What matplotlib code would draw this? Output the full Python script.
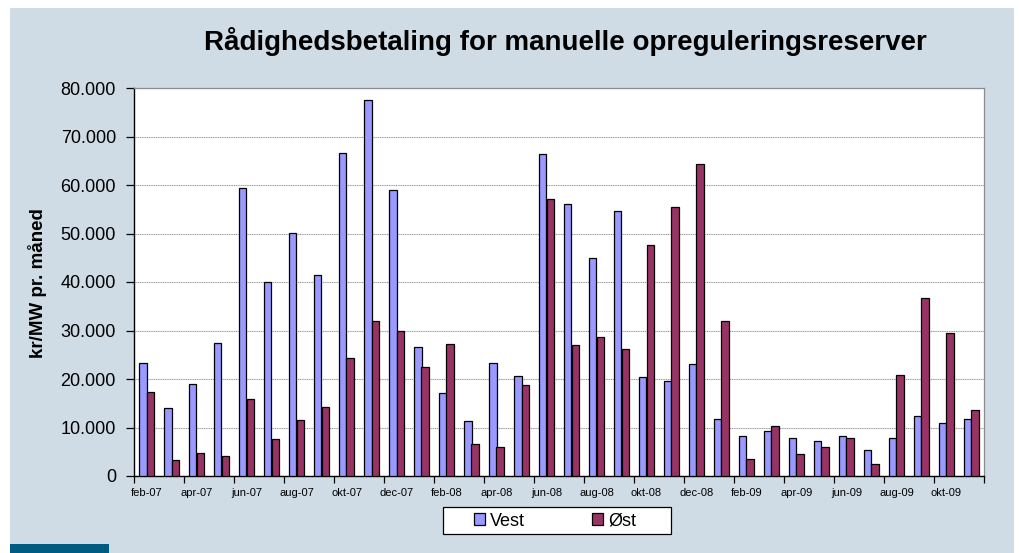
import matplotlib
matplotlib.use("Agg")
import matplotlib.pyplot as plt
from matplotlib.patches import Rectangle
from matplotlib.ticker import FixedLocator, FuncFormatter
import numpy as np

# Monthly capacity payment, 1000 kr/MW per month
months = ["feb-07", "mar-07", "apr-07", "maj-07", "jun-07", "jul-07", "aug-07", "sep-07",
          "okt-07", "nov-07", "dec-07", "jan-08", "feb-08", "mar-08", "apr-08", "maj-08",
          "jun-08", "jul-08", "aug-08", "sep-08", "okt-08", "nov-08", "dec-08", "jan-09",
          "feb-09", "mar-09", "apr-09", "maj-09", "jun-09", "jul-09", "aug-09", "sep-09",
          "okt-09", "nov-09"]
vest = [23.3, 14.0, 18.9, 27.5, 59.3, 39.9, 50.1, 41.4, 66.7, 77.6, 59.0, 26.6, 17.1,
        11.4, 23.4, 20.7, 66.3, 56.0, 44.9, 54.6, 20.4, 19.5, 23.1, 11.8, 8.3, 9.2,
        7.8, 7.3, 8.2, 5.4, 7.8, 12.3, 10.9, 11.8]
oest = [17.3, 3.2, 4.8, 4.2, 15.8, 7.6, 11.6, 14.2, 24.3, 31.9, 29.8, 22.4, 27.3,
        6.7, 6.0, 18.7, 57.2, 27.1, 28.7, 26.2, 47.6, 55.4, 64.4, 31.9, 3.6, 10.3,
        4.6, 5.9, 7.8, 2.4, 20.9, 36.8, 29.5, 13.7]

vest = np.array(vest) * 1000
oest = np.array(oest) * 1000
x = np.arange(len(months))

plt.rcParams["font.family"] = ["Liberation Sans", "DejaVu Sans"]

W, H = 1020, 553
fig = plt.figure(figsize=(W / 100, H / 100), dpi=100, facecolor="white")

# slide-style background panel, accent strip and legend box
fig.patches.append(Rectangle((10 / W, 0), 1004 / W, 545 / H, transform=fig.transFigure,
                             facecolor="#cfdce5", edgecolor="none", zorder=-3))
fig.patches.append(Rectangle((10 / W, 0), 99 / W, 9 / H, transform=fig.transFigure,
                             facecolor="#005b82", edgecolor="none", zorder=-2))
fig.patches.append(Rectangle((443 / W, 1 - 534 / H), 228 / W, 27 / H,
                             transform=fig.transFigure, facecolor="white",
                             edgecolor="black", lw=0.9, zorder=-1))

ax = fig.add_axes([134 / W, 77 / H, 850 / W, 388 / H])
ax.set_facecolor("white")

bw = 0.2857
b1 = ax.bar(x - bw / 2, vest, width=bw, color="#9999ff", edgecolor="black", lw=0.9,
            label="Vest", zorder=3)
b2 = ax.bar(x + bw / 2, oest, width=bw, color="#993366", edgecolor="black", lw=0.9,
            label="Øst", zorder=3)

ax.set_xlim(-0.5, len(months) - 0.5)
ax.set_ylim(0, 80000)
ax.set_yticks(np.arange(0, 80001, 10000))
ax.yaxis.set_major_formatter(FuncFormatter(lambda v, p: f"{int(v):,}".replace(",", ".")))
ax.grid(axis="y", color="#999999", lw=0.8, ls=(0, (1, 0.6)), zorder=1)
ax.tick_params(axis="y", length=6, width=0.9, direction="out", labelsize=13, pad=7)

# ticks between categories every 2 months, labels on the labelled months
ax.xaxis.set_major_locator(FixedLocator(np.arange(-0.5, len(months), 2)))
ax.xaxis.set_major_formatter(FuncFormatter(lambda v, p: ""))
ax.xaxis.set_minor_locator(FixedLocator(x[::2]))
ax.set_xticklabels(months[::2], minor=True)
ax.tick_params(axis="x", which="major", length=5, width=0.9, direction="out")
ax.tick_params(axis="x", which="minor", length=0, labelsize=8, pad=9)

for s in ["left", "bottom"]:
    ax.spines[s].set_color("black")
    ax.spines[s].set_linewidth(1.0)
for s in ["top", "right"]:
    ax.spines[s].set_color("#8c8c8c")
    ax.spines[s].set_linewidth(0.9)

fig.text(565 / W, 1 - 42 / H, "Rådighedsbetaling for manuelle opreguleringsreserver",
         ha="center", va="center", fontsize=20, fontweight="bold")
fig.text(38 / W, 1 - 283 / H, "kr/MW pr. måned", rotation=90, ha="center", va="center",
         fontsize=13.5, fontweight="bold")

leg = fig.legend(handles=[b1, b2], loc="center left",
                 bbox_to_anchor=(474 / W, 1 - 521 / H), borderaxespad=0, borderpad=0,
                 ncol=2, fontsize=13, frameon=False, handlelength=0.6,
                 handleheight=0.6, handletextpad=0.3, columnspacing=3.7)

fig.savefig("out.png", dpi=100, facecolor="white")
